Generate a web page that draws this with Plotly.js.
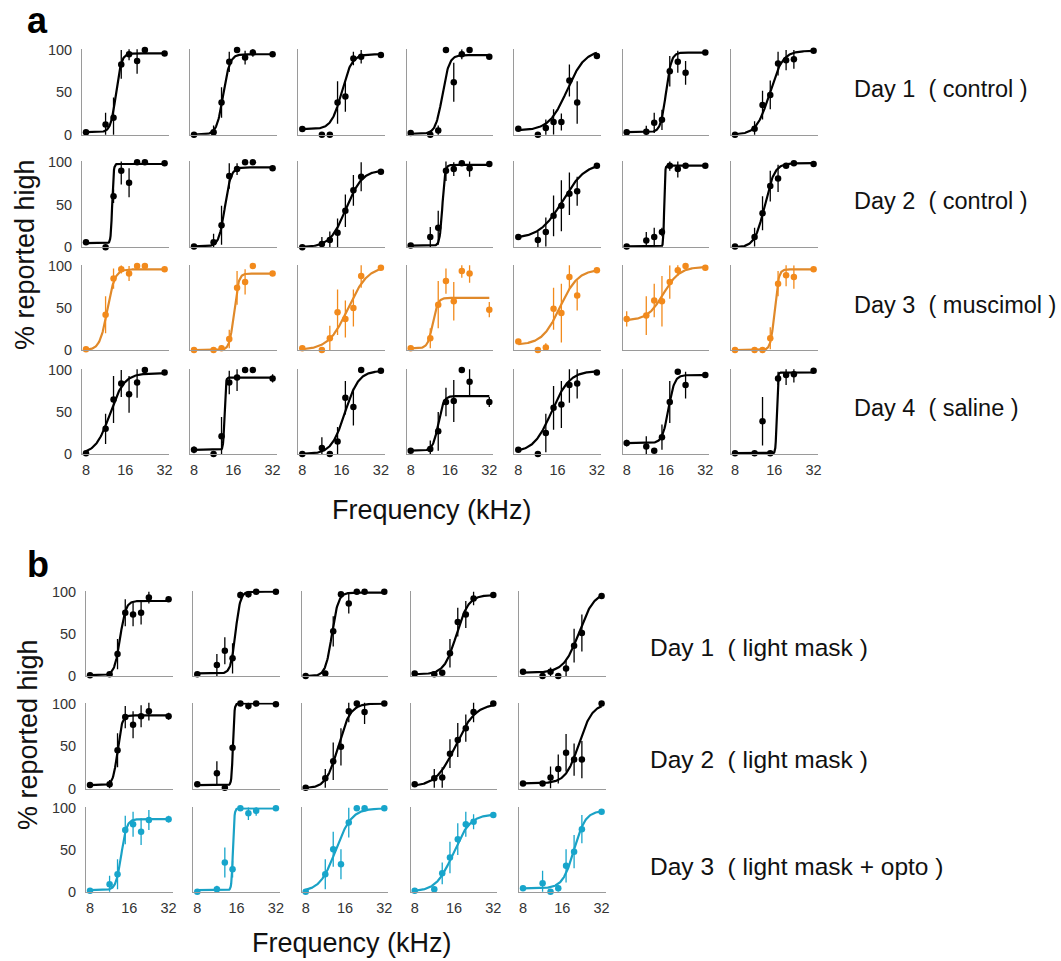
<!DOCTYPE html>
<html><head><meta charset="utf-8">
<script src="https://cdn.plot.ly/plotly-3.0.1.min.js"></script>
<style>html,body{margin:0;padding:0;background:#fff}</style>
</head><body><div id="chart" style="width:1061px;height:961px"></div>
<script>
// ---------- data ----------
const freqs = [8, 11.3, 13, 14.9, 17.1, 19.7, 22.6, 32];
const freqTicks = [8, 16, 32];
const freqTickText = ['8', '16', '32'];
const pctTicks = [0, 50, 100];
const pctTickText = ['0', '50', '100'];

const rowLabelsA = ['Day 1\u00a0\u00a0( control )', 'Day 2\u00a0\u00a0( control )', 'Day 3\u00a0\u00a0( muscimol )', 'Day 4\u00a0\u00a0( saline )'];
const rowLabelsB = ['Day 1\u00a0\u00a0( light mask )', 'Day 2\u00a0\u00a0( light mask )', 'Day 3\u00a0\u00a0( light mask + opto )'];
const yTitle = '% reported high';
const xTitle = 'Frequency (kHz)';

// panel a : % reported high, 4 days x 7 animals
const valsA = [
  [3, 12, 20, 83, 95, 87, 100, 96],
  [0, 3, 38, 86, 100, 91, 97, 95],
  [6.6, 0, 0, 38, 45, 90, 92, 94],
  [2, 0, 5, 100, 62, 95, 100, 92],
  [7, 0, 8, 15, 15, 64, 38, 93],
  [3, 3.5, 14, 17.5, 75, 86, 73, 97],
  [0, 7, 35, 47, 84, 88, 89, 99],

  [6, 0, 60, 90, 76, 100, 100, 99],
  [1, 6, 26, 84, 92, 100, 100, 93],
  [0, 4, 8.5, 17, 43, 67, 83, 89],
  [2, 12, 23, 90, 92, 99, 93, 98],
  [12, 8.5, 18, 37, 49, 63, 66, 96],
  [1, 8, 12, 18, 96, 92, 96, 96],
  [1, 12, 40, 72, 81, 96, 99, 98],

  [1, 42, 85, 96, 91, 100, 100, 96],
  [0, 0, 2, 13, 74, 81, 100, 91],
  [2, 0, 14, 45, 37, 50, 88, 98],
  [2, 14, 54, 82, 58, 94, 91, 48],
  [10, 0, 3, 49, 44, 87, 65, 95],
  [37, 41, 59, 58, 81, 95, 100, 98],
  [0, 0, 0, 14, 79, 89, 87, 96],

  [1, 30, 65, 84, 71, 85, 100, 97],
  [5, 0, 21, 85, 91, 100, 100, 90],
  [0, 7, 0, 15, 67, 56, 100, 99],
  [4, 6, 27, 62, 63, 100, 86, 62],
  [5, 0, 25, 55, 59, 82, 84, 97],
  [13, 9, 4, 20, 62, 98, 82, 94],
  [1, 1, 39, 1, 90, 94, 95, 99]
];
const errsA = [
  [0, 14, 24, 17, 7, 15, 0, 0],
  [0, 8, 18, 12, 0, 8, 5, 0],
  [0, 0, 0, 25, 18, 8, 8, 0],
  [0, 0, 6, 0, 23, 6, 0, 0],
  [0, 0, 10, 15, 10, 19, 25, 0],
  [0, 7, 12, 12, 18, 13, 14, 0],
  [0, 9, 17, 17, 14, 12, 11, 0],

  [0, 0, 8, 16, 17, 0, 0, 0],
  [0, 10, 23, 15, 7, 0, 0, 0],
  [0, 8, 10, 17, 19, 18, 17, 0],
  [0, 12, 20, 12, 8, 0, 10, 0],
  [0, 10, 17, 24, 30, 25, 17, 0],
  [0, 10, 11, 5, 6, 10, 0, 0],
  [0, 11, 20, 18, 16, 0, 0, 0],

  [0, 22, 12, 5, 9, 0, 0, 0],
  [0, 0, 4, 11, 20, 15, 0, 0],
  [0, 0, 15, 27, 22, 22, 14, 0],
  [0, 12, 28, 15, 23, 8, 11, 9],
  [0, 0, 5, 25, 35, 15, 18, 0],
  [9, 23, 20, 30, 20, 7, 0, 0],
  [0, 0, 0, 13, 15, 13, 14, 0],

  [0, 18, 28, 16, 22, 18, 0, 0],
  [4, 0, 23, 14, 16, 0, 0, 5],
  [0, 13, 0, 17, 20, 22, 0, 0],
  [0, 10, 23, 17, 25, 0, 16, 6],
  [0, 0, 23, 26, 28, 21, 18, 0],
  [4, 12, 0, 15, 25, 0, 16, 0],
  [0, 0, 29, 0, 8, 12, 10, 0]
];
// psychometric fit parameters: lower, upper, midpoint (kHz), 10-90% width (octaves)
const fitLoA  = [3, 0, 6.5, 1, 5, 3, 0,   5, 1, 0, 2, 10, 1, 0,   0, 0, 0, 2, 6, 35, 0,   0, 5, 0, 4, 2, 13, 1];
const fitHiA  = [96, 95, 95, 94, 100, 97, 99,   98, 94, 91, 97, 100, 96, 99,   96, 91, 100, 62, 96, 99, 96,   96, 91, 99, 69, 99, 94, 97];
const fitMidA = [13.6, 13.4, 16, 14, 18.9, 16, 14.75,   12.7, 13.8, 17.3, 14, 17.5, 15.5, 13.5,   11.65, 16.2, 18, 11.8, 16.7, 15.3, 16.1,   12.2, 13.7, 17, 13, 14.4, 16.7, 16.7];
const fitWA   = [0.3, 0.37, 0.57, 0.38, 1.0, 0.3, 0.72,   0.08, 0.34, 0.9, 0.15, 1.3, 0.05, 0.55,   0.42, 0.25, 1.1, 0.28, 1.0, 0.9, 0.22,   0.8, 0.07, 0.76, 0.3, 1.0, 0.34, 0.06];

// panel b : 3 days x 5 animals
const valsB = [
  [1, 2, 26, 75, 73, 75, 93, 91],
  [2, 13, 30, 21, 96, 97, 100, 100],
  [0, 3, 53, 97, 86, 100, 100, 100],
  [3, 2, 4, 27, 64, 73, 92, 96],
  [5, 0, 5, 0, 9, 36, 51, 95],

  [4, 5, 45, 84, 75, 85, 91, 85],
  [5, 18, 1, 48, 100, 97, 100, 99],
  [1, 12, 32, 49, 91, 100, 90, 100],
  [5, 12, 13, 41, 57, 71, 90, 100],
  [6, 6, 13, 23, 42, 34, 34, 100],

  [1, 9, 21, 74, 81, 72, 86, 87],
  [0, 3, 35, 27, 100, 94, 97, 100],
  [0, 21, 51, 33, 83, 100, 100, 100],
  [1, 3, 22, 41, 63, 81, 84, 92],
  [4, 10, 0, 4, 31, 48, 75, 96]
];
const errsB = [
  [0, 0, 18, 16, 14, 14, 7, 0],
  [0, 13, 16, 18, 4, 4, 0, 0],
  [0, 0, 18, 0, 12, 0, 0, 0],
  [0, 0, 0, 17, 17, 16, 8, 0],
  [0, 0, 5, 0, 9, 20, 22, 0],

  [0, 5, 20, 13, 16, 13, 11, 4],
  [0, 14, 0, 0, 0, 4, 0, 0],
  [0, 11, 22, 22, 13, 6, 14, 0],
  [0, 11, 12, 17, 20, 16, 12, 0],
  [0, 0, 13, 17, 22, 19, 22, 0],

  [0, 10, 18, 17, 15, 16, 12, 4],
  [0, 4, 18, 10, 0, 8, 6, 0],
  [0, 18, 21, 18, 18, 0, 0, 0],
  [0, 0, 13, 19, 19, 15, 9, 0],
  [0, 15, 0, 4, 20, 20, 17, 0]
];
const fitLoB  = [1, 3, 0, 2, 4,   4, 4, 0, 2, 6,   2, 2, 0, 0, 4];
const fitHiB  = [89, 100, 99, 96, 100,   86, 100, 100, 100, 100,   87, 100, 100, 93, 97];
const fitMidB = [13.6, 15.7, 12.7, 16.7, 21.5,   13.0, 15.0, 14.2, 16.5, 21.5,   13.9, 15.0, 13.6, 15.8, 19.7];
const fitWB   = [0.32, 0.27, 0.36, 0.68, 0.85,   0.25, 0.08, 0.68, 1.1, 0.75,   0.3, 0.08, 0.89, 0.95, 0.64];

// ---------- layout geometry (pixels) ----------
const W = 1061, H = 961;
const boxW = 86.5;
const colLeftA = [82, 190, 298.3, 406.7, 514.3, 622.7, 731];
const rowZeroA = [134.7, 247.3, 350, 454];
const rowHundA = [50, 162.3, 266, 370];
const colLeftB = [86, 193.3, 301.7, 410.7, 519];
const rowZeroB = [676, 788.5, 891.7];
const rowHundB = [591.7, 703.5, 808.3];

const BLACK = '#000000';
const ORANGE = '#F28A1C', ORANGE_FIT = '#E0892A';
const CYAN = '#17A5CB', CYAN_FIT = '#1AA2C6';
const FONT = 'Liberation Sans, Arial, Helvetica, sans-serif';

const traces = [];
const layout = {
  width: W, height: H, margin: {l: 0, r: 0, t: 0, b: 0},
  paper_bgcolor: '#fff', plot_bgcolor: 'rgba(0,0,0,0)',
  showlegend: false, font: {family: FONT, color: '#000'},
  annotations: []
};
const xRange = [Math.log10(8) - 4 / 130.7, Math.log10(32) + 3.9 / 130.7];
let k = 0;

function curve(lo, hi, mid, w) {
  const xs = [], ys = [];
  for (let i = 0; i <= 160; i++) {
    const f = 8 * Math.pow(4, i / 160);
    xs.push(f);
    ys.push(lo + (hi - lo) / (1 + Math.exp(-Math.log2(f / mid) * 4.394 / w)));
  }
  return {xs, ys};
}

function addPanel(left, y0, y100, vals, errs, lo, hi, mid, w, color, fitColor, showX, showY) {
  k++;
  const xa = 'xaxis' + (k === 1 ? '' : k), ya = 'yaxis' + (k === 1 ? '' : k);
  const xr = 'x' + (k === 1 ? '' : k), yr = 'y' + (k === 1 ? '' : k);
  const top = y0 - (y0 - y100) * 1.01;
  layout[xa] = {
    type: 'log', range: xRange, domain: [left / W, (left + boxW) / W], anchor: yr,
    showline: true, linecolor: '#9a9a9a', linewidth: 1, ticks: '', showgrid: false, zeroline: false,
    tickvals: freqTicks, ticktext: freqTickText, showticklabels: showX,
    tickfont: {family: FONT, size: 14.5, color: '#333'}, ticklabelstandoff: 3, fixedrange: true
  };
  layout[ya] = {
    range: [0, 101], domain: [1 - y0 / H, 1 - top / H], anchor: xr,
    showline: true, linecolor: '#9a9a9a', linewidth: 1, ticks: '', showgrid: false, zeroline: false,
    tickvals: pctTicks, ticktext: pctTickText, showticklabels: showY,
    tickfont: {family: FONT, size: 14.5, color: '#333'}, ticklabelstandoff: 6, fixedrange: true
  };
  const c = curve(lo, hi, mid, w);
  traces.push({x: c.xs, y: c.ys, xaxis: xr, yaxis: yr, type: 'scatter', mode: 'lines',
    line: {color: fitColor, width: 2.2}, hoverinfo: 'skip'});
  traces.push({x: freqs, y: vals, xaxis: xr, yaxis: yr, type: 'scatter', mode: 'markers',
    cliponaxis: false, marker: {color: color, size: 6.5},
    error_y: {type: 'data', array: errs, visible: true, thickness: 1.3, width: 0, color: color}});
}

// panel a
for (let r = 0; r < 4; r++) {
  for (let c = 0; c < 7; c++) {
    const i = r * 7 + c;
    const col = r === 2 ? ORANGE : BLACK, fcol = r === 2 ? ORANGE_FIT : BLACK;
    addPanel(colLeftA[c], rowZeroA[r], rowHundA[r], valsA[i], errsA[i], fitLoA[i], fitHiA[i], fitMidA[i], fitWA[i], col, fcol, r === 3, c === 0);
  }
}
// panel b
for (let r = 0; r < 3; r++) {
  for (let c = 0; c < 5; c++) {
    const i = r * 5 + c;
    const col = r === 2 ? CYAN : BLACK, fcol = r === 2 ? CYAN_FIT : BLACK;
    addPanel(colLeftB[c], rowZeroB[r], rowHundB[r], valsB[i], errsB[i], fitLoB[i], fitHiB[i], fitMidB[i], fitWB[i], col, fcol, r === 2, c === 0);
  }
}

function ann(text, x, y, opts) {
  layout.annotations.push(Object.assign({
    text: text, x: x / W, y: 1 - y / H, xref: 'paper', yref: 'paper', showarrow: false,
    xanchor: 'center', yanchor: 'middle', font: {family: FONT, size: 23.5, color: '#111'}
  }, opts || {}));
}
ann('<b>a</b>', 25, 20, {xanchor: 'left', font: {family: FONT, size: 36, color: '#000'}});
ann('<b>b</b>', 25, 564, {xanchor: 'left', font: {family: FONT, size: 36, color: '#000'}});
ann(yTitle, 25, 255, {textangle: -90, font: {family: FONT, size: 27, color: '#111'}});
ann(xTitle, 432, 510, {font: {family: FONT, size: 27, color: '#111'}});
ann(yTitle, 28, 735, {textangle: -90, font: {family: FONT, size: 27, color: '#111'}});
ann(xTitle, 352, 943, {font: {family: FONT, size: 27, color: '#111'}});
const rowYA = [89, 201, 305, 408];
rowLabelsA.forEach((t, i) => ann(t, 852, rowYA[i], {xanchor: 'left'}));
const rowYB = [647, 759, 866];
rowLabelsB.forEach((t, i) => ann(t, 648, rowYB[i], {xanchor: 'left', font: {family: FONT, size: 24.5, color: '#111'}}));

Plotly.newPlot('chart', traces, layout, {staticPlot: true, displayModeBar: false});
</script>
</body></html>
